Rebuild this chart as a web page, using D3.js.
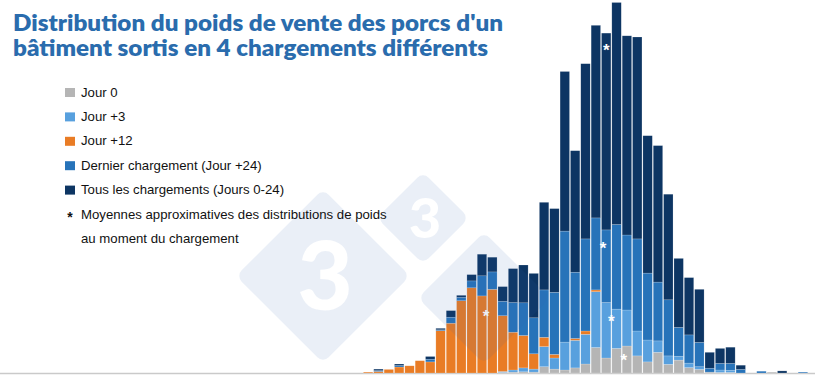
<!DOCTYPE html>
<html>
<head>
<meta charset="utf-8">
<script src="https://cdn.jsdelivr.net/npm/d3@7"></script>
<style>
  body { margin: 0; background: #fff; }
  svg { display: block; }
</style>
</head>
<body>
<script>
// weight classes (histogram bins, left to right)
var bins = [1, 2, 3, 4, 5, 6, 7, 8, 9, 10, 11, 12, 13, 14, 15, 16, 17, 18, 19, 20, 21, 22,
  23, 24, 25, 26, 27, 28, 29, 30, 31, 32, 33, 34, 35, 36, 37, 38, 39, 40, 41, 42, 43];

// number of pigs per bin, one array per series (stacked bottom -> top)
var jour0 = [0, 0, 0, 0, 0, 0, 0, 0, 0, 0, 0, 0, 0, 0.2, 0.3, 0.4, 0.3, 2.1, 1.3, 1.0, 1.7, 3.0,
  8.5, 5.0, 8.2, 9.0, 5.7, 3.7, 6.9, 2.9, 4.3, 1.8, 1.2, 0.3, 0.2, 0.2, 0, 0, 0, 0.3, 0, 0, 0];
var jour3 = [0, 0, 0, 0, 0, 0, 0, 0, 0, 0, 0, 0, 0, 0.3, 0.7, 1.3, 1.0, 6.7, 3.7, 9.3, 9.2, 9.9,
  18.6, 18.5, 13.1, 12.0, 8.3, 7.3, 3.8, 2.8, 1.3, 1.5, 0.9, 0, 0.8, 0.7, 0, 0, 0, 0, 0, 0, 0];
var jour12 = [0.3, 0.5, 1.2, 2.0, 2.4, 4.1, 3.7, 14.1, 16.6, 24.1, 28.4, 25.7, 27.9, 18.6, 12.6,
  10.8, 5.1, 3.1, 1.2, 0, 0.6, 1.1, 0.6, 0, 0, 0, 0, 0, 0, 0, 0, 0, 0, 0, 0, 0, 0, 0, 0, 0, 0, 0, 0];
var jour24 = [0, 0.3, 0, 0.5, 0, 0, 0.9, 0.3, 2.0, 1.1, 2.3, 6.7, 5.8, 4.8, 9.9, 10.9, 12.0, 15.8,
  20.7, 37.0, 22.1, 30.7, 24.0, 24.2, 28.2, 25.0, 30.7, 22.3, 19.6, 18.7, 9.6, 9.4, 8.1, 1.3, 2.2,
  2.3, 1.2, 0, 0.6, 0, 0, 0, 0.3];
var tous = [0, 0.5, 0, 0.5, 0, 0, 0.9, 0.5, 2.2, 0.7, 2.1, 7.2, 4.9, 4.9, 11.3, 12.6, 14.8, 29.2,
  27.9, 53.2, 40.5, 58.4, 64.2, 65.6, 74.0, 66.4, 67.3, 45.8, 45.5, 35.2, 23.0, 19.1, 17.7, 5.3,
  5.0, 5.4, 1.4, 0, 0, 0, 0.7, 0, 0];

var seriesKeys = ["jour0", "jour3", "jour12", "jour24", "tous"];
var seriesLabels = ["Jour 0", "Jour +3", "Jour +12", "Dernier chargement (Jour +24)",
  "Tous les chargements (Jours 0-24)"];
var seriesColors = ["#b5b5b5", "#58a0de", "#e97c25", "#2773b9", "#0d3563"];

// approximate means: position in bin units and height in pigs
var meanPos = [25.2, 24.0, 11.9, 23.2, 23.5];
var meanHeight = [5.3, 18.3, 20.0, 42.7, 108.7];

var titleLines = ["Distribution du poids de vente des porcs d'un",
  "bâtiment sortis en 4 chargements différents"];
var noteLines = ["Moyennes approximatives des distributions de poids",
  "au moment du chargement"];

window.onload = () => {
  var width = 820, height = 389;
  var svg = d3.select("body").append("svg")
    .attr("width", width).attr("height", height);

  var table = bins.map(function (b, i) {
    return { bin: b, jour0: jour0[i], jour3: jour3[i], jour12: jour12[i], jour24: jour24[i], tous: tous[i] };
  });
  var stacked = d3.stack().keys(seriesKeys)(table);

  var x = d3.scaleBand().domain(bins).range([363, 808]).paddingInner(0.09).paddingOuter(0.04);
  var xMean = d3.scaleLinear().domain([0, bins.length]).range([363, 808]);
  var y = d3.scaleLinear().domain([0, 124]).range([373, 1]);
  var color = d3.scaleOrdinal().domain(seriesKeys).range(seriesColors);

  // baseline
  svg.append("line")
    .attr("x1", 0).attr("x2", 815)
    .attr("y1", y(0) + 0.5).attr("y2", y(0) + 0.5)
    .attr("stroke", "#cacaca").attr("stroke-width", 1.5);

  // bars
  svg.append("g")
    .selectAll("g")
    .data(stacked)
    .enter().append("g")
    .attr("fill", function (d) { return color(d.key); })
    .selectAll("rect")
    .data(function (d) { return d; })
    .enter().append("rect")
    .attr("x", function (d) { return x(d.data.bin); })
    .attr("width", x.bandwidth())
    .attr("y", function (d) { return y(d[1]); })
    .attr("height", function (d) { return Math.max(0, y(d[0]) - y(d[1])); })
    .attr("stroke", "#ffffff")
    .attr("stroke-opacity", 0.35)
    .attr("stroke-width", 0.5);

  // mean markers
  svg.append("g")
    .selectAll("text")
    .data(seriesKeys)
    .enter().append("text")
    .attr("x", function (d, i) { return xMean(meanPos[i]); })
    .attr("y", function (d, i) { return y(meanHeight[i]) + 9; })
    .attr("text-anchor", "middle")
    .style("font-family", "'Liberation Sans', Arial, sans-serif")
    .style("font-weight", "bold")
    .style("font-size", "17px")
    .style("fill", "#ffffff")
    .text("*");

  // watermark (3tres3 diamonds), drawn over everything with low opacity
  var marks = [
    { cx: 323, cy: 276, r: 87, fs: 96, label: "3" },
    { cx: 423, cy: 218, r: 46, fs: 56, label: "3" },
    { cx: 484, cy: 298, r: 66, fs: 0, label: "" }
  ];
  var defs = svg.append("defs");
  var mask = defs.append("mask").attr("id", "wm");
  marks.forEach(function (m) {
    mask.append("rect")
      .attr("x", m.cx - m.r * 0.707).attr("y", m.cy - m.r * 0.707)
      .attr("width", m.r * 1.414).attr("height", m.r * 1.414)
      .attr("rx", 8)
      .attr("transform", "rotate(45," + m.cx + "," + m.cy + ")")
      .attr("fill", "#fff");
  });
  marks.forEach(function (m) {
    if (!m.label) return;
    mask.append("text")
      .attr("x", m.cx + 2).attr("y", m.cy + m.fs * 0.35)
      .attr("text-anchor", "middle")
      .style("font-family", "Lato, 'Open Sans', sans-serif")
      .style("font-weight", "900")
      .style("font-size", m.fs + "px")
      .attr("fill", "#000")
      .text(m.label);
  });
  svg.append("rect")
    .attr("x", 0).attr("y", 0).attr("width", width).attr("height", height)
    .attr("fill", "#2f62b4").attr("fill-opacity", 0.1)
    .attr("mask", "url(#wm)");

  // title: font size fitted so each line spans the reference width
  var titleWidths = [490, 475];
  svg.append("g").selectAll("text")
    .data(titleLines)
    .enter().append("text")
    .attr("x", 13)
    .attr("y", function (d, i) { return 31 + i * 24.5; })
    .style("font-family", "Lato, 'Open Sans', sans-serif")
    .style("font-weight", "800")
    .style("font-size", "22px")
    .style("fill", "#2a6cad")
    .text(function (d) { return d; })
    .each(function (d, i) {
      var w = this.getComputedTextLength();
      var fs = Math.min(22, 22 * titleWidths[i] / w);
      d3.select(this).style("font-size", fs + "px");
      var w2 = this.getComputedTextLength();
      if (Math.abs(w2 - titleWidths[i]) > 2) {
        d3.select(this).attr("textLength", titleWidths[i]).attr("lengthAdjust", "spacingAndGlyphs");
      }
    });

  // legend
  var legend = svg.append("g").attr("transform", "translate(65,0)");
  var rowY = function (i) { return 92 + i * 24.4; };
  var labelFont = "13.2px";
  legend.selectAll("rect")
    .data(seriesKeys)
    .enter().append("rect")
    .attr("x", 0)
    .attr("y", function (d, i) { return rowY(i) - 4; })
    .attr("width", 10).attr("height", 9)
    .attr("fill", function (d) { return color(d); });
  legend.selectAll("text.lab")
    .data(seriesLabels)
    .enter().append("text")
    .attr("class", "lab")
    .attr("x", 16)
    .attr("y", function (d, i) { return rowY(i) + 4.5; })
    .style("font-family", "'Liberation Sans', Arial, sans-serif")
    .style("font-size", labelFont)
    .style("fill", "#111")
    .text(function (d) { return d; });
  legend.append("text")
    .attr("x", 5).attr("y", rowY(5) + 8)
    .attr("text-anchor", "middle")
    .style("font-family", "'Liberation Sans', Arial, sans-serif")
    .style("font-weight", "bold")
    .style("font-size", "14px")
    .style("fill", "#111")
    .text("*");
  legend.selectAll("text.note")
    .data(noteLines)
    .enter().append("text")
    .attr("class", "note")
    .attr("x", 16)
    .attr("y", function (d, i) { return rowY(5 + i) + 4.5; })
    .style("font-family", "'Liberation Sans', Arial, sans-serif")
    .style("font-size", labelFont)
    .style("fill", "#111")
    .text(function (d) { return d; });
};
</script>
</body>
</html>
